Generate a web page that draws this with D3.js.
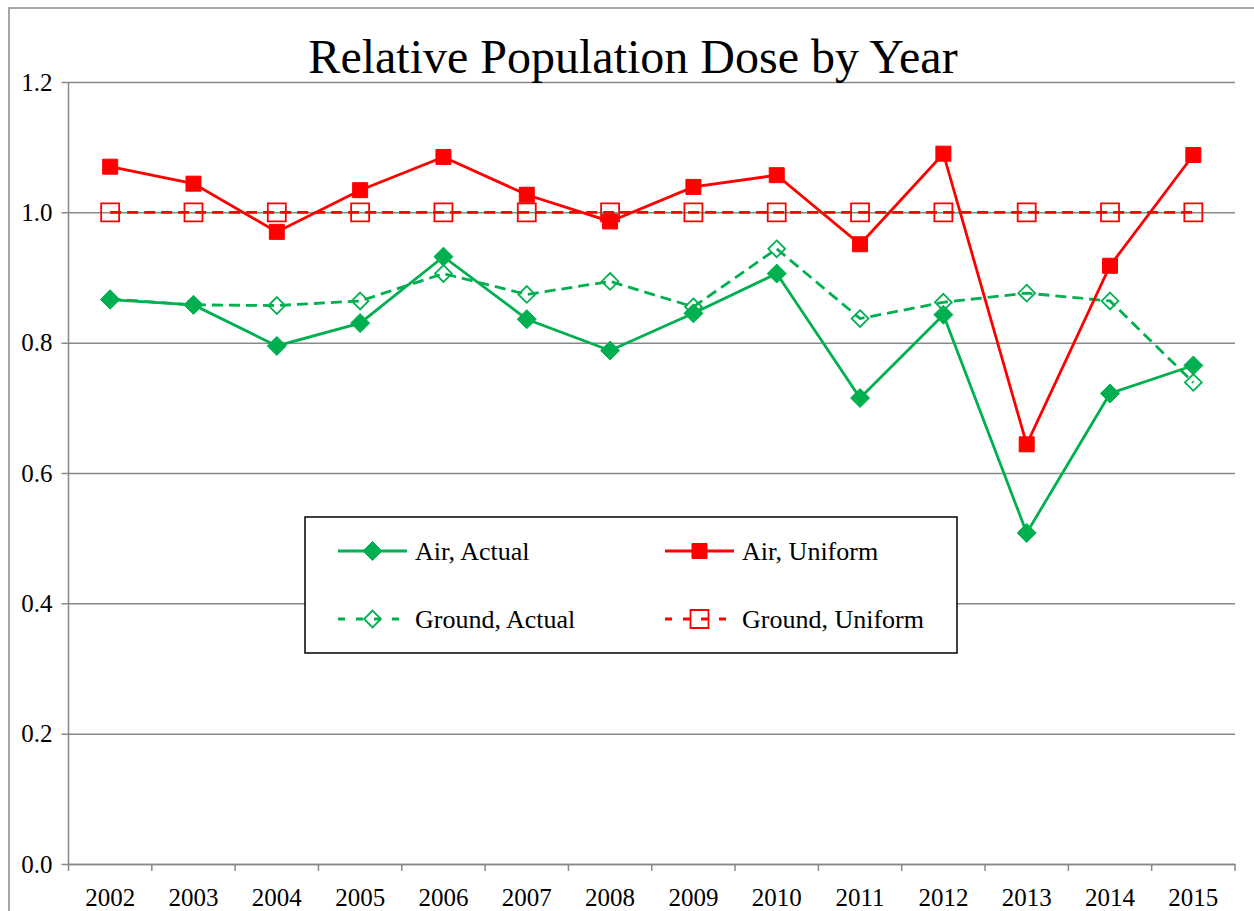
<!DOCTYPE html>
<html lang="en">
<head>
    <meta charset="UTF-8">
    <title>Relative Population Dose by Year</title>
    <script src="https://cdn.jsdelivr.net/npm/d3@7"></script>
    <style>
        body { margin: 0; background: #fff; }
        svg text { font-family: "Liberation Serif", "Times New Roman", serif; fill: #000; }
    </style>
</head>
<body>
<div id="chart"></div>
<script>
    var years = ["2002", "2003", "2004", "2005", "2006", "2007", "2008",
                 "2009", "2010", "2011", "2012", "2013", "2014", "2015"];
    var airActual = [0.866, 0.858, 0.795, 0.830, 0.932, 0.836, 0.788,
                     0.845, 0.906, 0.715, 0.843, 0.508, 0.722, 0.765];
    var airUniform = [1.070, 1.044, 0.970, 1.034, 1.085, 1.027, 0.986,
                      1.039, 1.057, 0.951, 1.090, 0.644, 0.918, 1.088];
    var groundActual = [0.867, 0.858, 0.857, 0.864, 0.906, 0.874, 0.894,
                        0.855, 0.944, 0.837, 0.862, 0.876, 0.864, 0.739];
    var groundUniform = [1.0, 1.0, 1.0, 1.0, 1.0, 1.0, 1.0,
                         1.0, 1.0, 1.0, 1.0, 1.0, 1.0, 1.0];
    var yTicks = [0.0, 0.2, 0.4, 0.6, 0.8, 1.0, 1.2];

    var green = "#00b050";
    var red = "#ff0000";
    var grey = "#898989";
    var serif = "Liberation Serif, Times New Roman, serif";

    // series in draw order: dashed ones first, markers of air on top
    var series = [
        {name: "Ground, Actual", values: groundActual, color: green, dash: "11,6", shape: "diamond", filled: false},
        {name: "Ground, Uniform", values: groundUniform, color: red, dash: "11,6", shape: "square", filled: false},
        {name: "Air, Actual", values: airActual, color: green, dash: null, shape: "diamond", filled: true},
        {name: "Air, Uniform", values: airUniform, color: red, dash: null, shape: "square", filled: true}
    ];

    var width = 1254;
    var height = 911;
    var margin = {left: 68.5, right: 1235, top: 82, bottom: 864};

    var svg = d3.select("#chart")
            .append("svg")
            .attr("width", width)
            .attr("height", height);

    // outer frame of the chart area
    svg.append("rect")
            .attr("x", 9)
            .attr("y", 8)
            .attr("width", 1260)
            .attr("height", 920)
            .attr("fill", "none")
            .attr("stroke", grey)
            .attr("stroke-width", 1.5);

    var x = d3.scaleBand()
            .domain(years)
            .range([margin.left, margin.right]);

    var y = d3.scaleLinear()
            .domain([0, 1.2])
            .range([margin.bottom, margin.top]);

    function cx(i) {
        return x(years[i]) + x.bandwidth() / 2;
    }

    // gridlines + y ticks
    var yAxis = d3.axisLeft(y)
            .tickValues(yTicks)
            .tickSize(margin.right - margin.left + 7)
            .tickPadding(14)
            .tickFormat(d3.format(".1f"));

    var yg = svg.append("g")
            .attr("transform", "translate(" + margin.right + ",0)")
            .call(yAxis);
    yg.select(".domain").remove();
    yg.selectAll(".tick line")
            .attr("stroke", grey)
            .attr("stroke-width", 1.5);
    yg.selectAll(".tick text")
            .attr("x", -(margin.right - margin.left) - 16)
            .style("font-family", serif)
            .style("font-size", "25px");

    svg.append("line")
            .attr("x1", margin.left)
            .attr("x2", margin.left)
            .attr("y1", margin.top)
            .attr("y2", margin.bottom)
            .attr("stroke", grey)
            .attr("stroke-width", 1.5);

    // x axis with ticks between the categories
    var xg = svg.append("g")
            .attr("transform", "translate(0," + margin.bottom + ")")
            .call(d3.axisBottom(x).tickSize(0).tickPadding(24));
    xg.select(".domain")
            .attr("stroke", grey)
            .attr("stroke-width", 1.5);
    xg.selectAll(".tick text")
            .style("font-family", serif)
            .style("font-size", "25px");

    svg.append("g")
            .selectAll("line")
            .data(years.concat(["end"]))
            .enter()
            .append("line")
            .attr("x1", function (d, i) { return margin.left + i * x.bandwidth(); })
            .attr("x2", function (d, i) { return margin.left + i * x.bandwidth(); })
            .attr("y1", margin.bottom)
            .attr("y2", margin.bottom + 7)
            .attr("stroke", grey)
            .attr("stroke-width", 1.5);

    var line = d3.line()
            .x(function (d, i) { return cx(i); })
            .y(function (d) { return y(d); });

    var square = d3.symbol().type(d3.symbolSquare);
    var diamond = d3.symbol().type(d3.symbolDiamond2);

    function markerPath(s) {
        if (s.shape === "square") {
            return s.filled ? square.size(225)() : square.size(324)();
        }
        return s.filled ? diamond.size(230)() : diamond.size(180)();
    }

    function styleMarker(sel, s) {
        sel.attr("d", markerPath(s))
                .attr("fill", s.filled ? s.color : "none")
                .attr("stroke", s.color)
                .attr("stroke-width", s.filled ? 1 : 1.8);
    }

    var plot = svg.append("g");

    series.forEach(function (s) {
        plot.append("path")
                .datum(s.values)
                .attr("d", line)
                .attr("fill", "none")
                .attr("stroke", s.color)
                .attr("stroke-width", 2.8)
                .attr("stroke-dasharray", s.dash);
    });

    series.forEach(function (s) {
        plot.append("g")
                .selectAll("path")
                .data(s.values)
                .enter()
                .append("path")
                .attr("transform", function (d, i) {
                    return "translate(" + cx(i) + "," + y(d) + ")";
                })
                .call(styleMarker, s);
    });

    // title
    svg.append("text")
            .attr("x", 633)
            .attr("y", 73)
            .attr("text-anchor", "middle")
            .style("font-size", "48px")
            .text("Relative Population Dose by Year");

    // legend
    var legendOrder = [series[2], series[3], series[0], series[1]];
    var legendArea = svg.append("g");

    legendArea.append("rect")
            .attr("x", 305)
            .attr("y", 517)
            .attr("width", 652)
            .attr("height", 136)
            .attr("fill", "#fff")
            .attr("stroke", "#000")
            .attr("stroke-width", 1.5);

    var legend = legendArea.selectAll("g")
            .data(legendOrder)
            .enter()
            .append("g")
            .attr("transform", function (d, i) {
                return "translate(" + (338 + (i % 2) * 327) + "," + (551 + Math.floor(i / 2) * 68) + ")";
            });

    legend.append("line")
            .attr("x1", 0)
            .attr("x2", 69)
            .attr("stroke", function (d) { return d.color; })
            .attr("stroke-width", 2.8)
            .attr("stroke-dasharray", function (d) { return d.dash ? "7,11" : null; });

    legend.append("path")
            .attr("transform", "translate(34.5,0)")
            .each(function (d) {
                d3.select(this).call(styleMarker, d);
            });

    legend.append("text")
            .attr("x", 77)
            .attr("dy", "0.33em")
            .style("font-size", "26px")
            .text(function (d) { return d.name; });
</script>
</body>
</html>
